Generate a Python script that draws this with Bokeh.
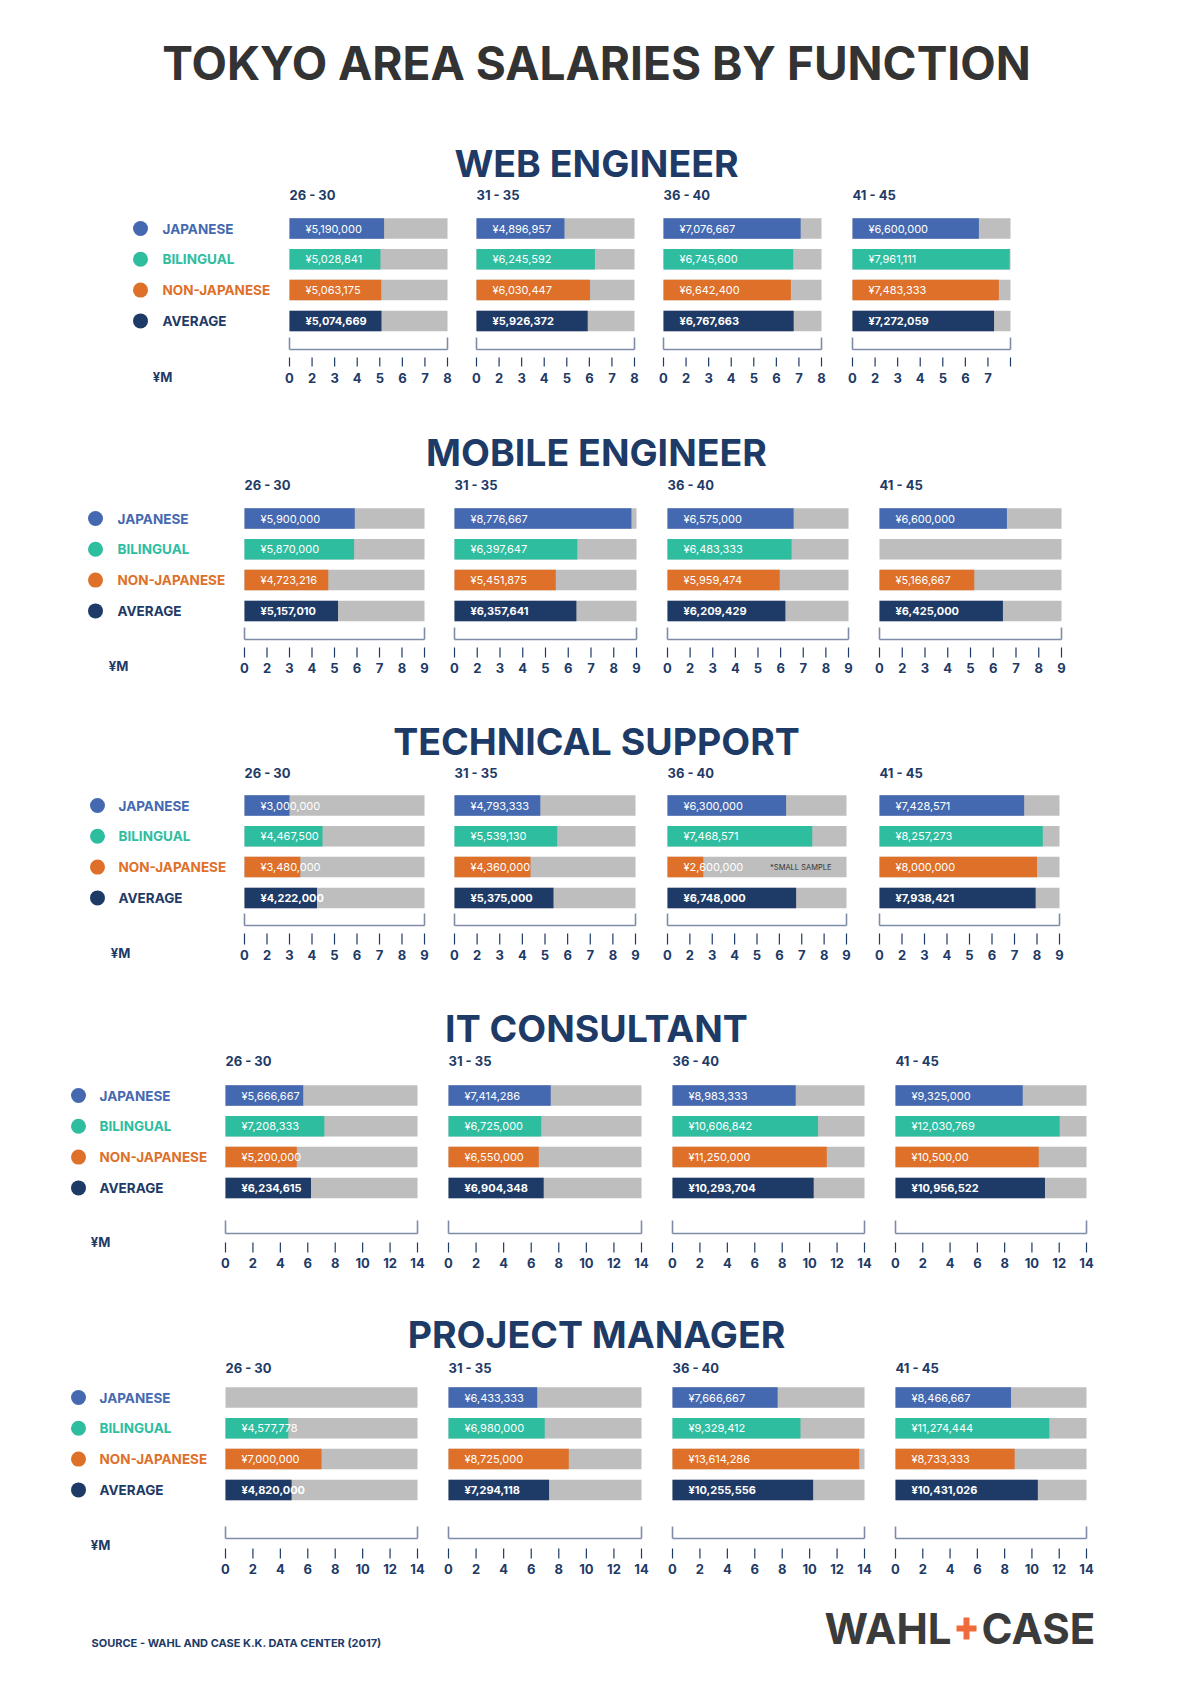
from bokeh.plotting import figure
from bokeh.models import Range1d
from bokeh.core.properties import value
from bokeh.embed import file_html
from bokeh.resources import INLINE

# ---------------- data ----------------
TITLE = "TOKYO AREA SALARIES BY FUNCTION"
SOURCE = "SOURCE - WAHL AND CASE K.K. DATA CENTER (2017)"
AGE_GROUPS = ["26 - 30", "31 - 35", "36 - 40", "41 - 45"]
SERIES = ["JAPANESE", "BILINGUAL", "NON-JAPANESE", "AVERAGE"]
FUNCTIONS = ["WEB ENGINEER", "MOBILE ENGINEER", "TECHNICAL SUPPORT",
             "IT CONSULTANT", "PROJECT MANAGER"]
UNIT = "¥M"

WEB_JAPANESE = [5190000, 4896957, 7076667, 6600000]
WEB_BILINGUAL = [5028841, 6245592, 6745600, 7961111]
WEB_NON_JAPANESE = [5063175, 6030447, 6642400, 7483333]
WEB_AVERAGE = [5074669, 5926372, 6767663, 7272059]

MOBILE_JAPANESE = [5900000, 8776667, 6575000, 6600000]
MOBILE_BILINGUAL = [5870000, 6397647, 6483333, None]
MOBILE_NON_JAPANESE = [4723216, 5451875, 5959474, 5166667]
MOBILE_AVERAGE = [5157010, 6357641, 6209429, 6425000]

TECH_JAPANESE = [3000000, 4793333, 6300000, 7428571]
TECH_BILINGUAL = [4467500, 5539130, 7468571, 8257273]
TECH_NON_JAPANESE = [3480000, 4360000, 2600000, 8000000]
TECH_AVERAGE = [4222000, 5375000, 6748000, 7938421]

IT_JAPANESE = [5666667, 7414286, 8983333, 9325000]
IT_BILINGUAL = [7208333, 6725000, 10606842, 12030769]
IT_NON_JAPANESE = [5200000, 6550000, 11250000, 10500000]
IT_AVERAGE = [6234615, 6904348, 10293704, 10956522]

PM_JAPANESE = [None, 6433333, 7666667, 8466667]
PM_BILINGUAL = [4577778, 6980000, 9329412, 11274444]
PM_NON_JAPANESE = [7000000, 8725000, 13614286, 8733333]
PM_AVERAGE = [4820000, 7294118, 10255556, 10431026]

# labels as printed (one printed with a typo in the source)
LABEL_AS_PRINTED = {("IT CONSULTANT", 2, 3): "¥10,500,00"}
NOTES = {("TECHNICAL SUPPORT", 2, 2): "*SMALL SAMPLE"}

# axis of each function (printed axis starts "0" at the 1M tick on 3 charts)
WEB_RANGE = (1, 8)
WEB_TICKS = [1, 2, 3, 4, 5, 6, 7, 8]
WEB_TICK_LABELS = ["0", "2", "3", "4", "5", "6", "7", "8"]
WEB_TICK_LABELS_4 = ["0", "2", "3", "4", "5", "6", "7", ""]
MOBILE_RANGE = (1, 9)
MOBILE_TICKS = [1, 2, 3, 4, 5, 6, 7, 8, 9]
MOBILE_TICK_LABELS = ["0", "2", "3", "4", "5", "6", "7", "8", "9"]
TECH_RANGE = (1, 9)
TECH_TICKS = [1, 2, 3, 4, 5, 6, 7, 8, 9]
TECH_TICK_LABELS = ["0", "2", "3", "4", "5", "6", "7", "8", "9"]
IT_RANGE = (0, 14)
IT_TICKS = [0, 2, 4, 6, 8, 10, 12, 14]
IT_TICK_LABELS = ["0", "2", "4", "6", "8", "10", "12", "14"]
PM_RANGE = (0, 14)
PM_TICKS = [0, 2, 4, 6, 8, 10, 12, 14]
PM_TICK_LABELS = ["0", "2", "4", "6", "8", "10", "12", "14"]

DATA = [
    [WEB_JAPANESE, WEB_BILINGUAL, WEB_NON_JAPANESE, WEB_AVERAGE],
    [MOBILE_JAPANESE, MOBILE_BILINGUAL, MOBILE_NON_JAPANESE, MOBILE_AVERAGE],
    [TECH_JAPANESE, TECH_BILINGUAL, TECH_NON_JAPANESE, TECH_AVERAGE],
    [IT_JAPANESE, IT_BILINGUAL, IT_NON_JAPANESE, IT_AVERAGE],
    [PM_JAPANESE, PM_BILINGUAL, PM_NON_JAPANESE, PM_AVERAGE],
]
AXES = [
    (WEB_RANGE, WEB_TICKS, [WEB_TICK_LABELS] * 3 + [WEB_TICK_LABELS_4]),
    (MOBILE_RANGE, MOBILE_TICKS, [MOBILE_TICK_LABELS] * 4),
    (TECH_RANGE, TECH_TICKS, [TECH_TICK_LABELS] * 4),
    (IT_RANGE, IT_TICKS, [IT_TICK_LABELS] * 4),
    (PM_RANGE, PM_TICKS, [PM_TICK_LABELS] * 4),
]

# ---------------- layout / style ----------------
COLORS = ["#4569b0", "#2ebd9f", "#de7029", "#1e3a66"]
GRAY = "#bebebe"
NAVY = "#1e3a66"
BRACKET = "#7f8ca8"
FONT = value("Inter")

IT_PANELS = [(225, 417), (448, 641), (672, 864), (895, 1086)]
LAYOUT = [
    dict(title_y=163, age_y=194, row0=228, bt=337, bb=349, tt=357, tb=366, ly=377,
         ym=(162, 376), panels=[(289, 447), (476, 634), (663, 821), (852, 1010)],
         cx=140, lx=162),
    dict(title_y=452, age_y=484, row0=518, bt=627, bb=639, tt=647, tb=657, ly=667,
         ym=(118, 665), panels=[(244, 424), (454, 636), (667, 848), (879, 1061)],
         cx=95, lx=117),
    dict(title_y=741, age_y=772, row0=805, bt=913, bb=925, tt=933, tb=944, ly=954,
         ym=(120, 952), panels=[(244, 424), (454, 635), (667, 846), (879, 1059)],
         cx=97, lx=118),
    dict(title_y=1028, age_y=1060, row0=1095, bt=1220, bb=1233, tt=1242, tb=1252, ly=1262,
         ym=(100, 1241), panels=IT_PANELS, cx=78, lx=99),
    dict(title_y=1334, age_y=1367, row0=1397, bt=1526, bb=1538, tt=1548, tb=1558, ly=1568,
         ym=(100, 1544), panels=IT_PANELS, cx=78, lx=99),
]
ROW_STEP = 30.8
BAR_H = 20.5
CENTER_X = 596

p = figure(width=1174, height=1668, x_range=Range1d(0, 1174), y_range=Range1d(1668, 0),
           x_axis_type=None, y_axis_type=None, toolbar_location=None,
           output_backend="svg", min_border=0, outline_line_color=None)
p.background_fill_color = "white"

p.text(x=[CENTER_X], y=[62], text=[TITLE], text_align="center", text_baseline="middle",
       text_font=FONT, text_font_style="bold", text_font_size="46px", text_color="#333333")

for fi, fname in enumerate(FUNCTIONS):
    L = LAYOUT[fi]
    rows_y = [L["row0"] + i * ROW_STEP for i in range(4)]
    p.text(x=[CENTER_X], y=[L["title_y"]], text=[fname], text_align="center",
           text_baseline="middle", text_font=FONT, text_font_style="bold",
           text_font_size="37.5px", text_color=NAVY)
    # legend
    p.scatter(x=[L["cx"]] * 4, y=rows_y, size=15, color=COLORS, line_color=None)
    p.text(x=[L["lx"]] * 4, y=rows_y, text=SERIES, text_color=COLORS,
           text_baseline="middle", text_font=FONT, text_font_style="bold",
           text_font_size="13.5px")
    p.text(x=[L["ym"][0]], y=[L["ym"][1]], text=[UNIT], text_align="center",
           text_baseline="middle", text_font=FONT, text_font_style="bold",
           text_font_size="13px", text_color=NAVY)

    (lo, hi), ticks, tick_label_sets = AXES[fi]
    for ai, age in enumerate(AGE_GROUPS):
        px0, px1 = L["panels"][ai]
        sub = p.subplot(x_source=Range1d(lo, hi), y_source=Range1d(0, 1684),
                        x_target=Range1d(px0, px1), y_target=Range1d(0, 1684))
        sub.text(x=[lo], y=[L["age_y"]], text=[age], text_baseline="middle",
                 text_font=FONT, text_font_style="bold", text_font_size="13px",
                 text_color=NAVY)
        # background bars
        sub.hbar(y=rows_y, left=lo, right=hi, height=BAR_H, color=GRAY, line_color=None)
        for si in range(4):
            v = DATA[fi][si][ai]
            if v is None:
                continue
            label = LABEL_AS_PRINTED.get((fname, si, ai), f"¥{v:,}")
            sub.hbar(y=[rows_y[si]], left=lo, right=[v / 1e6], height=BAR_H,
                     color=COLORS[si], line_color=None)
            sub.text(x=[lo], y=[rows_y[si]], text=[label], x_offset=16,
                     text_baseline="middle", text_font=FONT,
                     text_font_style="bold" if si == 3 else "normal",
                     text_font_size="11px", text_color="white")
            note = NOTES.get((fname, ai, si))
            if note:
                sub.text(x=[hi], y=[rows_y[si]], text=[note], x_offset=-15,
                         text_align="right", text_baseline="middle", text_font=FONT,
                         text_font_size="7.5px", text_color="#333333")
        # bracket
        sub.segment(x0=[lo, hi, lo], y0=[L["bt"], L["bt"], L["bb"]],
                    x1=[lo, hi, hi], y1=[L["bb"], L["bb"], L["bb"]],
                    line_color=BRACKET, line_width=1.6)
        # ticks
        sub.segment(x0=ticks, y0=[L["tt"]] * len(ticks), x1=ticks, y1=[L["tb"]] * len(ticks),
                    line_color=NAVY, line_width=1.2)
        sub.text(x=ticks, y=[L["ly"]] * len(ticks), text=tick_label_sets[ai],
                 text_align="center", text_baseline="middle", text_font=FONT,
                 text_font_style="bold", text_font_size="13px", text_color=NAVY)

# footer
p.text(x=[91], y=[1642], text=[SOURCE], text_baseline="middle", text_font=FONT,
       text_font_style="bold", text_font_size="11px", text_color=NAVY)
p.text(x=[951], y=[1628], text=["WAHL"], text_align="right", text_baseline="middle",
       text_font=FONT, text_font_style="bold", text_font_size="42px", text_color="#3b3b3b")
p.text(x=[981], y=[1628], text=["CASE"], text_align="left", text_baseline="middle",
       text_font=FONT, text_font_style="bold", text_font_size="42px", text_color="#3b3b3b")
p.rect(x=[966, 966], y=[1628, 1628], width=[6, 20], height=[22, 6],
       color="#f06a3c", line_color=None)

open("out.html", "w").write(file_html(p, INLINE))
